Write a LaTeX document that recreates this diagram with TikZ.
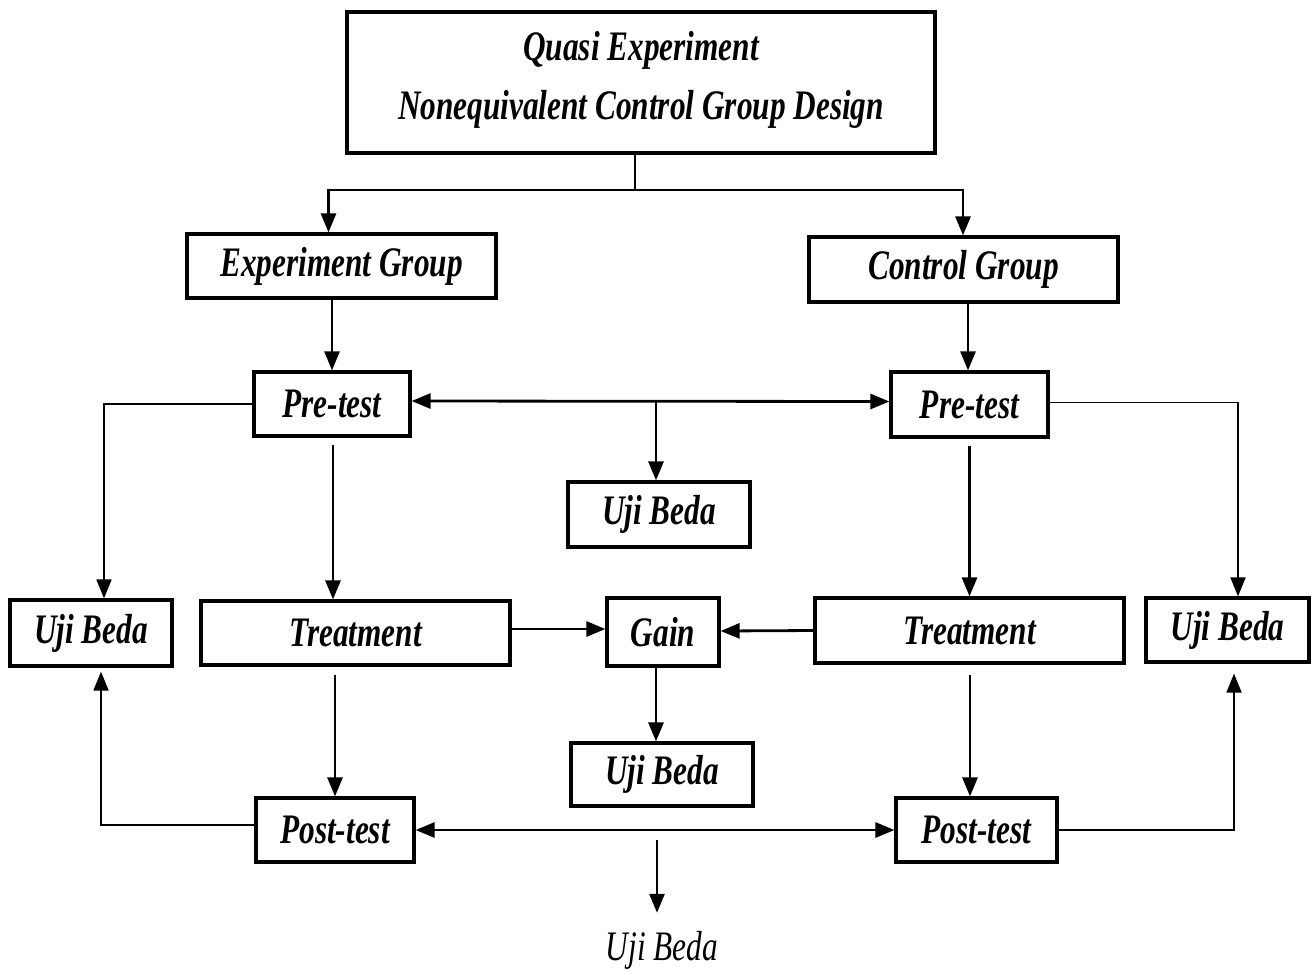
\documentclass[tikz,border=0pt]{standalone}
\usepackage{fontspec}
\setmainfont{Liberation Serif}[FakeStretch=0.745]
\usetikzlibrary{arrows.meta}
\tikzset{
  bx/.style={draw, line width=3.2pt, inner sep=0pt, align=center,
     font=\fontsize{42}{59}\selectfont\bfseries\itshape},
  arr/.style={line width=2.8pt, -{Triangle[length=19pt,width=15pt]}},
  arrb/.style={line width=2.8pt, {Triangle[length=19pt,width=15pt]}-{Triangle[length=19pt,width=15pt]}},
  tarr/.style={line width=1.7pt, -{Triangle[length=19pt,width=15pt]}},
  tln/.style={line width=1.7pt}
}
\begin{document}
\begin{tikzpicture}[x=1pt,y=-1pt]
\useasboundingbox (0,0) rectangle (1316,970);
\node[bx, minimum width=588pt, minimum height=141pt] (top) at (641,82.5)
  {Quasi Experiment\\Nonequivalent Control Group Design\\[-44pt]\mbox{}};
\node[bx, minimum width=309pt, minimum height=64pt] (eg) at (341.5,266) {Experiment Group};
\node[bx, minimum width=309pt, minimum height=65pt] (cg) at (963.5,269.5) {Control Group};
\node[bx, minimum width=156pt, minimum height=64pt] (preL) at (332,404) {Pre-test};
\node[bx, minimum width=157pt, minimum height=65pt] (preR) at (969.5,404.5) {Pre-test};
\node[bx, minimum width=182pt, minimum height=65pt] (ujiM1) at (659,514.5) {Uji Beda};
\node[bx, minimum width=162pt, minimum height=66pt] (ujiL) at (91,633) {Uji Beda};
\node[bx, minimum width=309pt, minimum height=64pt] (trL) at (355.5,633) {Treatment};
\node[bx, minimum width=112pt, minimum height=68pt] (gain) at (663,632) {Gain};
\node[bx, minimum width=309pt, minimum height=65pt] (trR) at (969.5,630.5) {Treatment};
\node[bx, minimum width=163pt, minimum height=64pt] (ujiR) at (1227.5,630) {Uji Beda};
\node[bx, minimum width=182pt, minimum height=63pt] (ujiM2) at (662,774.5) {Uji Beda};
\node[bx, minimum width=158pt, minimum height=64pt] (postL) at (335,830) {Post-test};
\node[bx, minimum width=161pt, minimum height=64pt] (postR) at (976.5,830) {Post-test};
\node[inner sep=0pt, font=\fontsize{42}{50}\selectfont\itshape] (ujiB) at (662,950) {Uji Beda};

% top split
\coordinate (split) at (635,190);
\draw[tln] (top.south -| split) -- (split);
\draw[arr] (split) -| ([xshift=-13pt]eg.north);
\draw[arr] (split) -| ([xshift=-0.5pt]cg.north);
% groups to pre-tests
\draw[arr] (eg.south -| preL) -- (preL.north);
\draw[arr] ([xshift=-1.5pt]cg.south -| preR) -- ([xshift=-1.5pt]preR.north);
% pre-test comparison
\draw[arrb] ([yshift=3pt]preL.east) -- ([yshift=3pt]preR.west);
\coordinate (pm) at ([yshift=3pt]preL.east -| 656,0);
\draw[arr] (pm) -- (pm |- ujiM1.north);
% pre-test to left/right uji beda
\draw[tarr] (preL.west) -| ([xshift=13pt]ujiL.north);
\draw[tarr] ([yshift=2pt]preR.east) -| ([xshift=10.5pt]ujiR.north);
% pre-test to treatment
\draw[arr, shorten <=7pt] ([xshift=1pt]preL.south) -- ([xshift=1pt]preL.south |- trL.north);
\draw[arr, shorten <=7pt] (preR.south) -- (preR.south |- trR.north);
% treatment to gain
\draw[arr] ([yshift=4pt]trL.east) -- ([yshift=3pt]gain.west);
\draw[arr] (trR.west) -- ([yshift=1pt]gain.east);
\draw[arr] ([xshift=-7pt]gain.south) -- ([xshift=-7pt]gain.south |- ujiM2.north);
% treatment to post-test
\draw[arr, shorten <=8pt] (trL.south -| postL) -- (postL.north);
\draw[arr, shorten <=10pt] ([xshift=-6.5pt]trR.south -| postR) -- ([xshift=-6.5pt]postR.north);
% post-test to uji beda
\draw[tarr, shorten >=4pt] ([yshift=5pt]postL.west) -| ([xshift=10pt]ujiL.south);
\draw[tarr, shorten >=10pt] (postR.east) -| ([xshift=6.5pt]ujiR.south);
% post-test comparison
\draw[arrb] (postL.east) -- (postR.west);
\coordinate (qm) at (657,840);
\draw[arr] (qm) -- ([xshift=-5pt,yshift=18pt]ujiB.north);
\end{tikzpicture}
\end{document}
